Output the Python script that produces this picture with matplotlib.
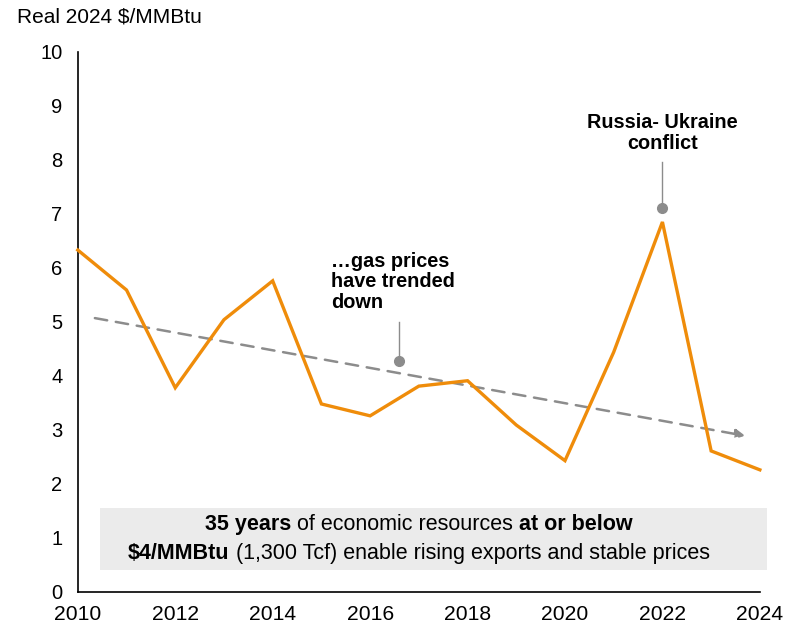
import matplotlib.pyplot as plt
from matplotlib.offsetbox import TextArea, HPacker, VPacker, AnnotationBbox
from matplotlib.patches import Rectangle

plt.rcParams['font.family'] = ['Liberation Sans', 'DejaVu Sans']

years = list(range(2010, 2025))
price = [6.33, 5.59, 3.78, 5.04, 5.76, 3.48, 3.26, 3.81, 3.91, 3.09,
         2.43, 4.44, 6.85, 2.61, 2.26]

trend_x = [2010.35, 2023.7]
trend_y = [5.07, 2.89]

orange = '#EF8C0A'
grey = '#8C8C8C'

fig = plt.figure(figsize=(7.94, 6.25), dpi=100)
ax = fig.add_axes([0.098, 0.053, 0.859, 0.864])

ax.plot(years, price, color=orange, lw=2.4, solid_joinstyle='miter', zorder=3, clip_on=False)

# trend arrow
ax.annotate('', xy=(trend_x[1], trend_y[1]), xytext=(trend_x[0], trend_y[0]),
            arrowprops=dict(arrowstyle='-|>', color=grey, lw=1.8, ls=(0, (5, 3.5)),
                            mutation_scale=14, shrinkA=0, shrinkB=0), zorder=2)

# callouts
ax.plot([2016.6, 2016.6], [4.28, 4.99], color=grey, lw=1)
ax.plot(2016.6, 4.28, 'o', color=grey, ms=7)
ax.text(2015.2, 6.3, '\u2026gas prices\nhave trended\ndown', fontsize=14.3, fontweight='bold',
        va='top', ha='left', linespacing=1.12)

ax.plot([2022.0, 2022.0], [7.11, 7.96], color=grey, lw=1)
ax.plot(2022.0, 7.11, 'o', color=grey, ms=7)
ax.text(2022.0, 8.13, 'Russia- Ukraine\nconflict', fontsize=14.3, fontweight='bold',
        va='bottom', ha='center', linespacing=1.12)

# grey box with mixed bold text
ax.add_patch(Rectangle((2010.45, 0.41), 13.7, 1.15, facecolor='#EBEBEB', edgecolor='none',
                       zorder=1, clip_on=False))

def piece(s, bold):
    return TextArea(s, textprops=dict(fontsize=15.5, fontweight='bold' if bold else 'normal'))

line1 = HPacker(children=[piece('35 years', True), piece(' of economic resources ', False),
                          piece('at or below', True)], sep=0, align='baseline')
line2 = HPacker(children=[piece('$4/MMBtu', True),
                          piece(' (1,300 Tcf) enable rising exports and stable prices', False)],
                sep=0, align='baseline')
block = VPacker(children=[line1, line2], sep=6, align='center')
ab = AnnotationBbox(block, (2017.0, 0.985), frameon=False, box_alignment=(0.5, 0.5), zorder=4)
ax.add_artist(ab)

ax.set_xlim(2010, 2024)
ax.set_ylim(0, 10)
ax.set_xticks(range(2010, 2025, 2))
ax.set_yticks(range(0, 11))
ax.tick_params(length=0)
ax.tick_params(axis='y', pad=11, labelsize=14.5)
ax.tick_params(axis='x', pad=9.5, labelsize=15.2)
for s in ['top', 'right']:
    ax.spines[s].set_visible(False)
for s in ['left', 'bottom']:
    ax.spines[s].set_linewidth(1.2)

fig.text(0.022, 0.973, 'Real 2024 $/MMBtu', fontsize=15, va='center', ha='left')

fig.savefig('out.png', dpi=100)
